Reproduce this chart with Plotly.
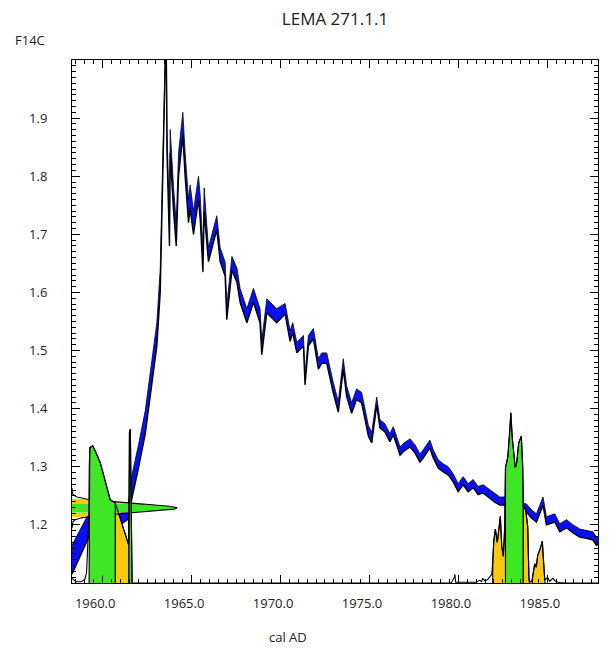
import numpy as np
import plotly.graph_objects as go

# ---- calibration curve (F14C, centre and 1-sigma half width) ----
cal_year = [
    1958.28, 1958.75, 1959.31, 1959.87, 1960.43, 1960.99, 1961.44, 1961.65, 1962.02, 1962.40,
    1962.77, 1963.05, 1963.24, 1963.34, 1963.43, 1963.52, 1963.58, 1963.62, 1963.76, 1963.80,
    1963.99, 1964.14, 1964.27, 1964.51, 1964.64, 1964.83, 1964.92, 1965.11, 1965.39, 1965.49,
    1965.64, 1965.71, 1965.95, 1966.23, 1966.42, 1966.61, 1966.89, 1966.98, 1967.27, 1967.55,
    1967.73, 1968.11, 1968.48, 1968.85, 1968.95, 1969.23, 1969.79, 1970.26, 1970.54, 1970.69,
    1970.92, 1971.29, 1971.38, 1971.57, 1971.85, 1972.13, 1972.32, 1972.60, 1972.79, 1972.97,
    1973.25, 1973.53, 1973.72, 1974.00, 1974.28, 1974.56, 1974.75, 1974.94, 1975.13, 1975.41,
    1975.59, 1975.87, 1976.15, 1976.34, 1976.53, 1976.72, 1976.90, 1977.28, 1977.56, 1977.84,
    1978.02, 1978.40, 1978.59, 1978.87, 1979.15, 1979.43, 1979.71, 1979.99, 1980.27, 1980.55,
    1980.83, 1981.11, 1981.39, 1981.77, 1982.05, 1982.33, 1982.61, 1982.89, 1983.17, 1983.45,
    1983.83, 1984.11, 1984.39, 1984.76, 1984.95, 1985.42, 1985.70, 1986.08, 1986.45, 1986.82,
    1987.20, 1987.57, 1987.76, 1987.95,
]
cal_f14c = [
    1.140, 1.170, 1.205, 1.205, 1.208, 1.210, 1.222, 1.266, 1.318, 1.377,
    1.463, 1.528, 1.620, 1.775, 1.900, 2.000, 2.030, 1.860, 1.700, 1.860,
    1.760, 1.700, 1.820, 1.890, 1.820, 1.740, 1.765, 1.720, 1.780, 1.745,
    1.655, 1.760, 1.665, 1.700, 1.720, 1.665, 1.640, 1.565, 1.650, 1.630,
    1.595, 1.560, 1.595, 1.560, 1.505, 1.577, 1.560, 1.572, 1.525, 1.539,
    1.505, 1.517, 1.450, 1.517, 1.529, 1.477, 1.487, 1.487, 1.460, 1.436,
    1.403, 1.477, 1.430, 1.401, 1.425, 1.419, 1.391, 1.362, 1.350, 1.413,
    1.374, 1.367, 1.350, 1.362, 1.345, 1.327, 1.333, 1.341, 1.331, 1.315,
    1.322, 1.339, 1.322, 1.305, 1.298, 1.293, 1.281, 1.264, 1.276, 1.264,
    1.271, 1.259, 1.262, 1.253, 1.246, 1.241, 1.241, 1.238, 1.236, 1.233,
    1.229, 1.219, 1.212, 1.241, 1.207, 1.212, 1.195, 1.202, 1.193, 1.186,
    1.184, 1.181, 1.172, 1.175,
]
cal_sigma = [
    0.025, 0.022, 0.020, 0.010, 0.010, 0.010, 0.012, 0.020, 0.020, 0.020,
    0.020, 0.020, 0.020, 0.015, 0.010, 0.010, 0.010, 0.020, 0.020, 0.020,
    0.020, 0.020, 0.020, 0.020, 0.020, 0.020, 0.020, 0.020, 0.020, 0.020,
    0.020, 0.020, 0.012, 0.012, 0.012, 0.012, 0.012, 0.012, 0.012, 0.012,
    0.012, 0.012, 0.012, 0.012, 0.012, 0.012, 0.012, 0.009, 0.009, 0.009,
    0.009, 0.009, 0.009, 0.009, 0.009, 0.009, 0.009, 0.009, 0.009, 0.009,
    0.009, 0.009, 0.009, 0.009, 0.009, 0.009, 0.009, 0.009, 0.009, 0.007,
    0.007, 0.007, 0.007, 0.007, 0.007, 0.007, 0.007, 0.007, 0.007, 0.007,
    0.007, 0.007, 0.007, 0.007, 0.007, 0.007, 0.007, 0.007, 0.007, 0.007,
    0.007, 0.007, 0.007, 0.007, 0.007, 0.007, 0.007, 0.007, 0.007, 0.007,
    0.007, 0.007, 0.007, 0.007, 0.007, 0.007, 0.007, 0.007, 0.007, 0.007,
    0.007, 0.007, 0.007, 0.007,
]

# ---- calibrated date: relative probability along cal AD ----
prob_year = [
    1958.28, 1958.50, 1958.80, 1959.00, 1959.10, 1959.17, 1959.22, 1959.25, 1959.28, 1959.44,
    1959.59, 1959.87, 1960.15, 1960.32, 1960.43, 1960.54, 1960.71, 1960.88, 1961.11, 1961.33,
    1961.46, 1961.51, 1961.56, 1961.62, 1961.66, 1962.00, 1979.60, 1979.78, 1979.80, 1979.85,
    1980.30, 1980.64, 1981.00, 1981.20, 1981.30, 1981.37, 1981.48, 1981.65, 1981.77, 1981.88,
    1981.94, 1981.99, 1982.08, 1982.19, 1982.36, 1982.44, 1982.53, 1982.61, 1982.65, 1982.78,
    1982.89, 1982.95, 1983.03, 1983.12, 1983.20, 1983.28, 1983.39, 1983.54, 1983.62, 1983.65,
    1983.79, 1983.90, 1983.97, 1984.05, 1984.12, 1984.18, 1984.29, 1984.38, 1984.46, 1984.58,
    1984.72, 1984.80, 1984.86, 1985.02, 1985.13, 1985.31, 1985.48, 1985.70, 1986.00, 1987.85,
]
prob_rel = [
    0.027, 0.007, 0.007, 0.020, 0.060, 0.200, 0.350, 0.667, 0.777, 0.787,
    0.757, 0.690, 0.587, 0.517, 0.477, 0.470, 0.460, 0.407, 0.330, 0.260,
    0.220, 0.867, 0.883, 0.333, 0.000, 0.000, 0.000, 0.035, 0.050, 0.005,
    0.003, 0.005, 0.004, 0.015, 0.008, 0.027, 0.012, 0.020, 0.035, 0.050,
    0.133, 0.240, 0.310, 0.233, 0.383, 0.210, 0.153, 0.333, 0.660, 0.723,
    0.867, 0.977, 0.833, 0.747, 0.660, 0.690, 0.803, 0.843, 0.660, 0.443,
    0.417, 0.323, 0.017, 0.007, 0.010, 0.040, 0.110, 0.090, 0.160, 0.190,
    0.240, 0.103, 0.017, 0.033, 0.010, 0.027, 0.007, 0.003, 0.000, 0.000,
]

# highest probability ranges (cal AD)
range_68 = [(1959.24, 1960.71), (1961.48, 1961.66), (1982.65, 1983.64)]
range_95 = [(1960.71, 1961.48), (1981.93, 1982.65), (1983.64, 1983.99), (1984.16, 1984.87)]

# measured value
meas_f14c = 1.229
meas_sigma = 0.0077

# axis ticks
x_ticks = [1960, 1965, 1970, 1975, 1980, 1985]
y_ticks = [1.2, 1.3, 1.4, 1.5, 1.6, 1.7, 1.8, 1.9]

# ---- display settings ----
X_RANGE = [1958.28, 1987.85]
Y_RANGE = [1.1, 2.0]
PROB_HEIGHT = 0.30        # F14C span used for probability 1.0
MEAS_SPAN = 5.9           # years used for the peak of the measurement curve
BLUE = "#0a10f5"
GREEN = "#3fe626"
YELLOW = "#fcc80f"
FONT = "Open Sans"
FIG_SP = "\u2007"         # figure space: keeps the integer part of a label on its tick

base = Y_RANGE[0]
px = np.array(prob_year)
pv = base + np.array(prob_rel) * PROB_HEIGHT

fig = go.Figure()

# calibration curve band
cy = np.array(cal_year)
cf = np.array(cal_f14c)
cs = np.array(cal_sigma)
fig.add_trace(go.Scatter(x=cy, y=cf - cs, mode="lines",
                         line=dict(color="black", width=1.4), hoverinfo="skip"))
fig.add_trace(go.Scatter(x=cy, y=cf + cs, mode="lines", fill="tonexty",
                         fillcolor=BLUE, line=dict(color="#000020", width=0.8),
                         hoverinfo="skip"))


def range_patch(a, b, color):
    inside = (px > a) & (px < b)
    ya = np.interp(a, px, pv)
    yb = np.interp(b, px, pv)
    xs = np.concatenate([[a, a], px[inside], [b, b]])
    ys = np.concatenate([[base, ya], pv[inside], [yb, base]])
    return go.Scatter(x=xs, y=ys, mode="lines", fill="toself", fillcolor=color,
                      line=dict(color="black", width=1.1), hoverinfo="skip")


for a, b in range_95:
    fig.add_trace(range_patch(a, b, YELLOW))

# measurement distribution laid along the F14C axis
x0 = X_RANGE[0]


def meas_x(y):
    return x0 + MEAS_SPAN * np.exp(-0.5 * ((y - meas_f14c) / meas_sigma) ** 2)


def meas_strip(y1, y2, color):
    ys = np.linspace(y1, y2, 60)
    xs = meas_x(ys)
    return go.Scatter(x=np.concatenate([[x0], xs, [x0]]),
                      y=np.concatenate([[y1], ys, [y2]]),
                      mode="lines", fill="toself", fillcolor=color,
                      line=dict(width=0), hoverinfo="skip")


m, s = meas_f14c, meas_sigma
fig.add_trace(meas_strip(m - 2 * s, m - s, YELLOW))
fig.add_trace(meas_strip(m + s, m + 2 * s, YELLOW))
fig.add_trace(meas_strip(m - s, m + s, GREEN))
yo = np.linspace(m - 4.5 * s, m + 4.5 * s, 200)
fig.add_trace(go.Scatter(x=meas_x(yo), y=yo, mode="lines",
                         line=dict(color="black", width=1.1), hoverinfo="skip"))

for a, b in range_68:
    fig.add_trace(range_patch(a, b, GREEN))

# outline of the full probability curve
fig.add_trace(go.Scatter(x=px, y=pv, mode="lines",
                         line=dict(color="black", width=1.1), hoverinfo="skip"))

axis_common = dict(
    showline=True, linecolor="black", linewidth=1, mirror="allticks",
    ticks="inside", ticklen=8, tickcolor="black", tickwidth=1,
    showgrid=False, zeroline=False,
    tickfont=dict(family=FONT, size=13, color="#222"),
)

fig.update_xaxes(
    range=X_RANGE, tickmode="array", tickvals=x_ticks,
    ticktext=[f"{v:.1f}{FIG_SP}{FIG_SP}" for v in x_ticks],
    minor=dict(ticks="inside", ticklen=4, tickcolor="black", tickmode="linear",
               dtick=0.5, tick0=1960, showgrid=False),
    ticklabelstandoff=8,
    **axis_common,
)
fig.update_yaxes(
    range=Y_RANGE, tickmode="array", tickvals=y_ticks,
    ticktext=[f"{v:.1f}" for v in y_ticks],
    minor=dict(ticks="inside", ticklen=4, tickcolor="black", tickmode="linear",
               dtick=0.01, tick0=1.1, showgrid=False),
    ticklabelstandoff=21,
    **axis_common,
)

fig.update_layout(
    width=610, height=649,
    margin=dict(l=72, r=12, t=60, b=66),
    paper_bgcolor="white", plot_bgcolor="white",
    showlegend=False,
    font=dict(family=FONT, color="#222"),
    title=dict(text="LEMA 271.1.1", x=0.5, xref="paper", xanchor="center",
               y=1 - 19 / 649, yref="container", yanchor="middle",
               font=dict(family=FONT, size=17, color="#222")),
    annotations=[
        dict(text="F14C", xref="paper", yref="paper", x=-0.08, y=1.038,
             xanchor="center", yanchor="middle", showarrow=False,
             font=dict(family=FONT, size=13, color="#222")),
        dict(text="cal AD", xref="paper", yref="paper", x=0.41, y=-0.103,
             xanchor="center", yanchor="middle", showarrow=False,
             font=dict(family=FONT, size=13, color="#222")),
    ],
)

fig.write_html("out.html")
